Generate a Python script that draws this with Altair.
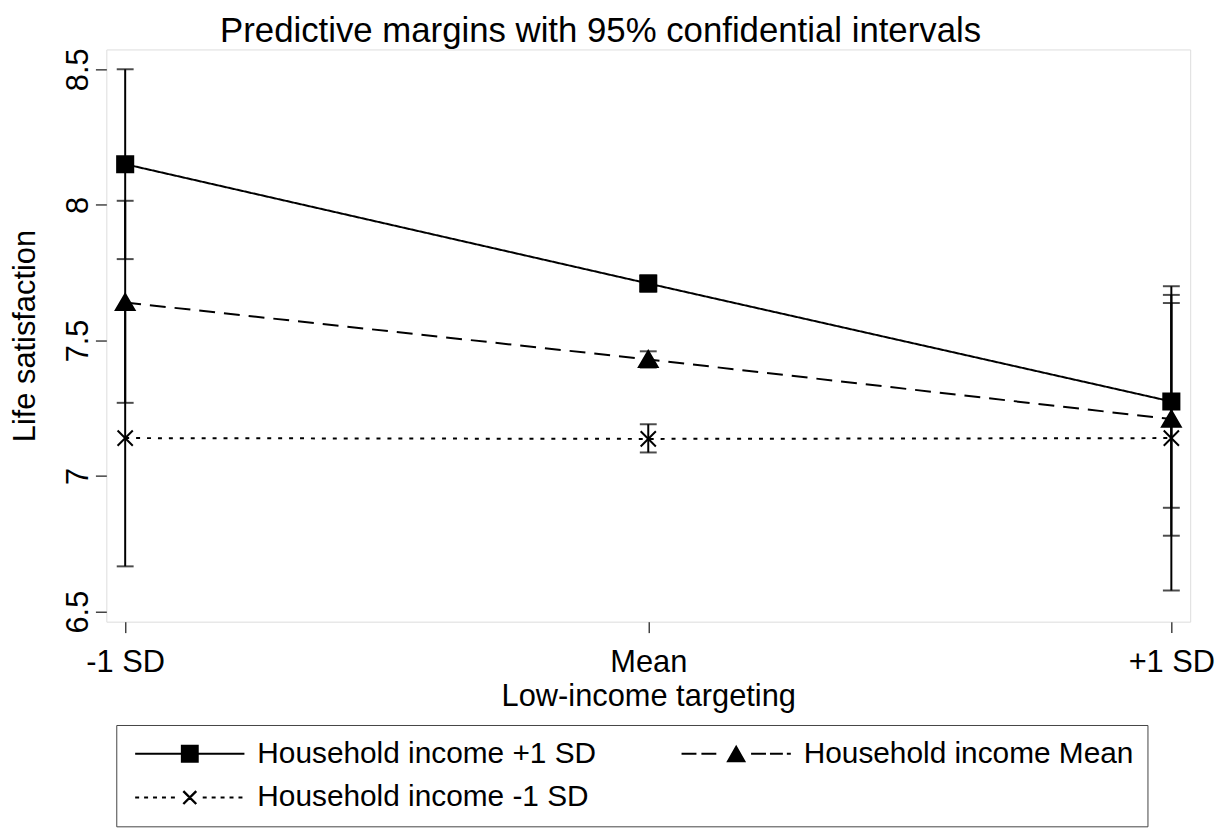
import altair as alt
import pandas as pd

# ---------------- data ----------------
x_levels = ["-1 SD", "Mean", "+1 SD"]
series_names = ["Household income +1 SD", "Household income Mean", "Household income -1 SD"]
legend_order = ["Household income +1 SD", "Household income -1 SD", "Household income Mean"]

margin_hi = [8.15, 7.71, 7.275]
lower_hi = [7.80, 7.68, 6.883]
upper_hi = [8.50, 7.74, 7.668]

margin_mean = [7.64, 7.43, 7.21]
lower_mean = [7.27, 7.40, 6.78]
upper_mean = [8.015, 7.46, 7.638]

margin_lo = [7.14, 7.137, 7.14]
lower_lo = [6.667, 7.087, 6.578]
upper_lo = [7.614, 7.191, 7.70]

y_ticks = [6.5, 7, 7.5, 8, 8.5]

rows = []
for name, m, lo, hi in zip(series_names,
                           [margin_hi, margin_mean, margin_lo],
                           [lower_hi, lower_mean, lower_lo],
                           [upper_hi, upper_mean, upper_lo]):
    for lev, mv, lv, hv in zip(x_levels, m, lo, hi):
        rows.append({"level": lev, "series": name, "margin": mv, "lower": lv, "upper": hv})
df = pd.DataFrame(rows)

FONT = "Liberation Sans"
INK = "black"
FRAME = "#444444"

x_axis = alt.Axis(title="Low-income targeting", labelAngle=0, domain=False, grid=False,
                  tickSize=11, tickWidth=1.5, tickColor=FRAME, labelPadding=15,
                  titlePadding=4, labelFontSize=31, titleFontSize=31,
                  labelFont=FONT, titleFont=FONT, labelColor=INK, titleColor=INK,
                  titleFontWeight="normal")
y_axis = alt.Axis(title="Life satisfaction", values=y_ticks, format="~g", domain=False, grid=False,
                  tickSize=11, tickWidth=1.5, tickColor=FRAME, labelAngle=270,
                  labelAlign="center", labelBaseline="alphabetic", labelPadding=8,
                  titlePadding=21, labelFontSize=31, titleFontSize=31,
                  labelFont=FONT, titleFont=FONT, labelColor=INK, titleColor=INK,
                  titleFontWeight="normal")

x_enc = alt.X("level:N", sort=x_levels, scale=alt.Scale(type="point", padding=0.036), axis=x_axis)
y_scale = alt.Scale(domain=[6.463, 8.573], nice=False, zero=False)

dash_range = [[1, 0], [16, 9], [4, 7]]

base = alt.Chart(df)

lines = base.mark_line(color=INK, strokeWidth=2).encode(
    x=x_enc,
    y=alt.Y("margin:Q", scale=y_scale, axis=y_axis),
    strokeDash=alt.StrokeDash("series:N", scale=alt.Scale(domain=series_names, range=dash_range), legend=None),
    detail="series:N",
)

rules = base.mark_rule(color=INK, strokeWidth=2).encode(
    x=x_enc,
    y=alt.Y("lower:Q", scale=y_scale, axis=y_axis),
    y2="upper:Q",
)

caps = base.transform_fold(["lower", "upper"], as_=["bound", "ci"]).mark_tick(
    color=INK, size=17, thickness=2).encode(
    x=x_enc,
    y=alt.Y("ci:Q", scale=y_scale, axis=y_axis),
)

point_paths = [
    "M-0.9,-0.9H0.9V0.9H-0.9Z",
    "M0,-0.95L1.05,0.85L-1.05,0.85Z",
    "M-0.85,-0.85L0.85,0.85M-0.85,0.85L0.85,-0.85",
]
points = base.mark_point(filled=True, fill=INK, stroke=INK, strokeWidth=2, size=324, opacity=1).encode(
    x=x_enc,
    y=alt.Y("margin:Q", scale=y_scale, axis=y_axis),
    shape=alt.Shape("series:N", scale=alt.Scale(domain=series_names, range=point_paths), legend=None),
)


# legend key glyphs (line + marker), drawn as filled geometry
def seg(x0, x1, h=0.1):
    return f"M{x0},{-h}H{x1}V{h}H{x0}Z"


key_solid = seg(-1, 10) + "M3.6,-0.9H5.4V0.9H3.6Z"
key_dashed = "".join(seg(a, b) for a, b in [(-1, 0.5), (1.0, 2.5), (6.0, 7.5), (7.9, 9.2), (9.6, 10)]) \
    + "M4.5,-0.9L5.5,0.85L3.5,0.85Z"
key_dotted = "".join(seg(a, a + 0.4) for a in [-1, -0.1, 0.8, 1.7, 2.6, 5.8, 6.7, 7.6, 8.5, 9.4]) \
    + "M3.935,-0.735L5.235,0.565L5.065,0.735L3.765,-0.565Z" \
    + "M3.935,0.735L3.765,0.565L5.065,-0.735L5.235,-0.565Z"
legend_paths = [key_solid, key_dotted, key_dashed]

legend = alt.Legend(title=None, orient="none", legendX=10, legendY=680, columns=2,
                    columnPadding=80, rowPadding=14, padding=14,
                    labelFont=FONT, labelFontSize=30, labelColor=INK, labelLimit=1000,
                    labelOffset=98, symbolSize=400, symbolStrokeWidth=0, symbolOpacity=1,
                    symbolFillColor=INK, symbolStrokeColor=INK,
                    strokeColor=FRAME)
legend_layer = base.mark_point(filled=True, fill=INK, size=400, opacity=0).encode(
    x=x_enc,
    y=alt.Y("margin:Q", scale=y_scale, axis=y_axis),
    shape=alt.Shape("series:N", scale=alt.Scale(domain=legend_order, range=legend_paths), legend=legend),
)

chart = alt.layer(lines, rules, caps, points, legend_layer).resolve_scale(
    shape="independent", strokeDash="independent"
).properties(
    width=1091, height=576,
    autosize=alt.AutoSizeParams(type="none"),
    padding={"left": 99, "top": 39, "right": 27, "bottom": 215},
    title=alt.TitleParams("Predictive margins with 95% confidential intervals", font=FONT,
                          fontSize=35, fontWeight="normal", color=INK, anchor="middle",
                          frame="group", dx=-48, dy=1, offset=0),
).configure_view(stroke=FRAME, strokeWidth=2).configure(background="white")

chart.save("out.html", embed_options={"renderer": "svg", "actions": False})
